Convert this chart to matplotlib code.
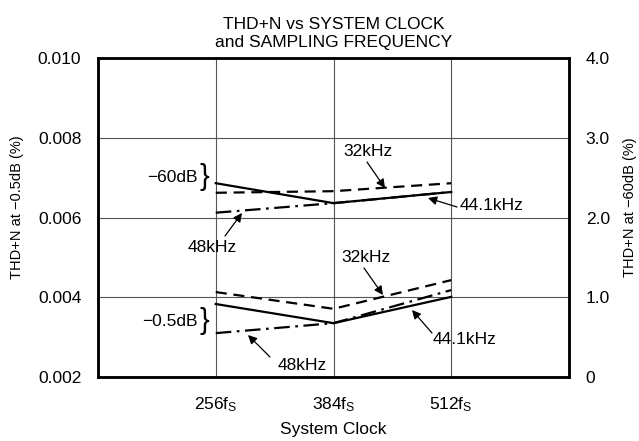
import matplotlib
matplotlib.use("Agg")
import matplotlib.pyplot as plt

plt.rcParams['font.family'] = ['Liberation Sans', 'DejaVu Sans']
plt.rcParams['mathtext.fontset'] = 'custom'
plt.rcParams['mathtext.rm'] = 'Liberation Sans'
plt.rcParams['mathtext.it'] = 'Liberation Sans'

categories = ["256f$_\\mathrm{S}$", "384f$_\\mathrm{S}$", "512f$_\\mathrm{S}$"]
xpos = [1, 2, 3]

# -0.5dB (left axis, %)
low_32k = [0.00413, 0.00371, 0.00443]
low_441k = [0.00383, 0.00335, 0.00401]
low_48k = [0.00310, 0.00335, 0.00418]

# -60dB (right axis, %)
high_32k = [2.31, 2.33, 2.43]
high_441k = [2.43, 2.18, 2.32]
high_48k = [2.06, 2.18, 2.32]

left_ticks = [0.002, 0.004, 0.006, 0.008, 0.010]
left_labels = ["0.002", "0.004", "0.006", "0.008", "0.010"]
right_ticks = [0, 1.0, 2.0, 3.0, 4.0]
right_labels = ["0", "1.0", "2.0", "3.0", "4.0"]

fig = plt.figure(figsize=(6.39, 4.41), dpi=100)
ax = fig.add_axes([98/639, 1-377/441, (569-98)/639, (377-58)/441])
ax2 = ax.twinx()

fs = 12.5
fsl = 10.5
lw = 1.6
dash = (0, (5, 3))
dashdot = (0, (7, 2.5, 1.2, 2.5))

ax.set_xlim(0, 4)
ax.set_ylim(0.002, 0.010)
ax2.set_ylim(0, 4.0)

ax.plot(xpos, low_48k, color='black', lw=lw, linestyle=dashdot)
ax.plot(xpos, low_441k, color='black', lw=lw, linestyle='-')
ax.plot(xpos, low_32k, color='black', lw=lw, linestyle=dash)

ax2.plot(xpos, high_48k, color='black', lw=lw, linestyle=dashdot)
ax2.plot(xpos, high_441k, color='black', lw=lw, linestyle='-')
ax2.plot(xpos, high_32k, color='black', lw=lw, linestyle=dash)

ax.set_xticks(xpos)
ax.set_xticklabels(categories, fontsize=fs)
ax.set_yticks(left_ticks)
ax.set_yticklabels(left_labels, fontsize=fs)
ax2.set_yticks(right_ticks)
ax2.set_yticklabels(right_labels, fontsize=fs)
ax.tick_params(axis='x', length=0, pad=13)
ax.tick_params(axis='y', length=0, pad=12)
ax2.tick_params(axis='y', length=0, pad=12)

ax.grid(True, color='#555555', lw=0.8)
ax.set_axisbelow(True)
for a in (ax, ax2):
    for s in a.spines.values():
        s.set_linewidth(1.8)

ax.set_ylabel("THD+N at \u22120.5dB (%)", fontsize=fsl, va='center')
ax.yaxis.set_label_coords((17 - 98) / 471, (377 - 207) / 319)
ax2.set_ylabel("THD+N at \u221260dB (%)", fontsize=fsl, va='center')
ax2.yaxis.set_label_coords((630 - 98) / 471, (377 - 207) / 319)
ax.set_xlabel("System Clock", fontsize=fs, labelpad=6)
ax.set_title("THD+N vs SYSTEM CLOCK\nand SAMPLING FREQUENCY", fontsize=fs, pad=8, linespacing=1.2)

def px(x, y):
    return (x / 639, 1 - y / 441)

def arrow(tail, tip):
    ax.annotate("", xy=px(*tip), xycoords='figure fraction',
                xytext=px(*tail), textcoords='figure fraction',
                arrowprops=dict(arrowstyle='-|>', color='black', lw=0.9,
                                mutation_scale=13, shrinkA=0, shrinkB=0))

# upper group annotations
fig.text(*px(368, 152), "32kHz", fontsize=fs, ha='center', va='center')
arrow((367, 162), (385, 188))
fig.text(*px(460, 205), "44.1kHz", fontsize=fs, ha='left', va='center')
arrow((457, 207), (428, 198))
fig.text(*px(212, 248), "48kHz", fontsize=fs, ha='center', va='center')
arrow((225, 236), (242, 213))
fig.text(*px(198, 177), "\u221260dB", fontsize=fs, ha='right', va='center')
fig.text(*px(199, 177), "}", fontsize=21, ha='left', va='center')

# lower group annotations
fig.text(*px(366, 257), "32kHz", fontsize=fs, ha='center', va='center')
arrow((364, 268), (383, 295))
fig.text(*px(433, 340), "44.1kHz", fontsize=fs, ha='left', va='center')
arrow((432, 333), (412, 310))
fig.text(*px(302, 365), "48kHz", fontsize=fs, ha='center', va='center')
arrow((270, 357), (248, 335))
fig.text(*px(198, 321), "\u22120.5dB", fontsize=fs, ha='right', va='center')
fig.text(*px(199, 321), "}", fontsize=21, ha='left', va='center')

fig.savefig("out.png", dpi=100)
